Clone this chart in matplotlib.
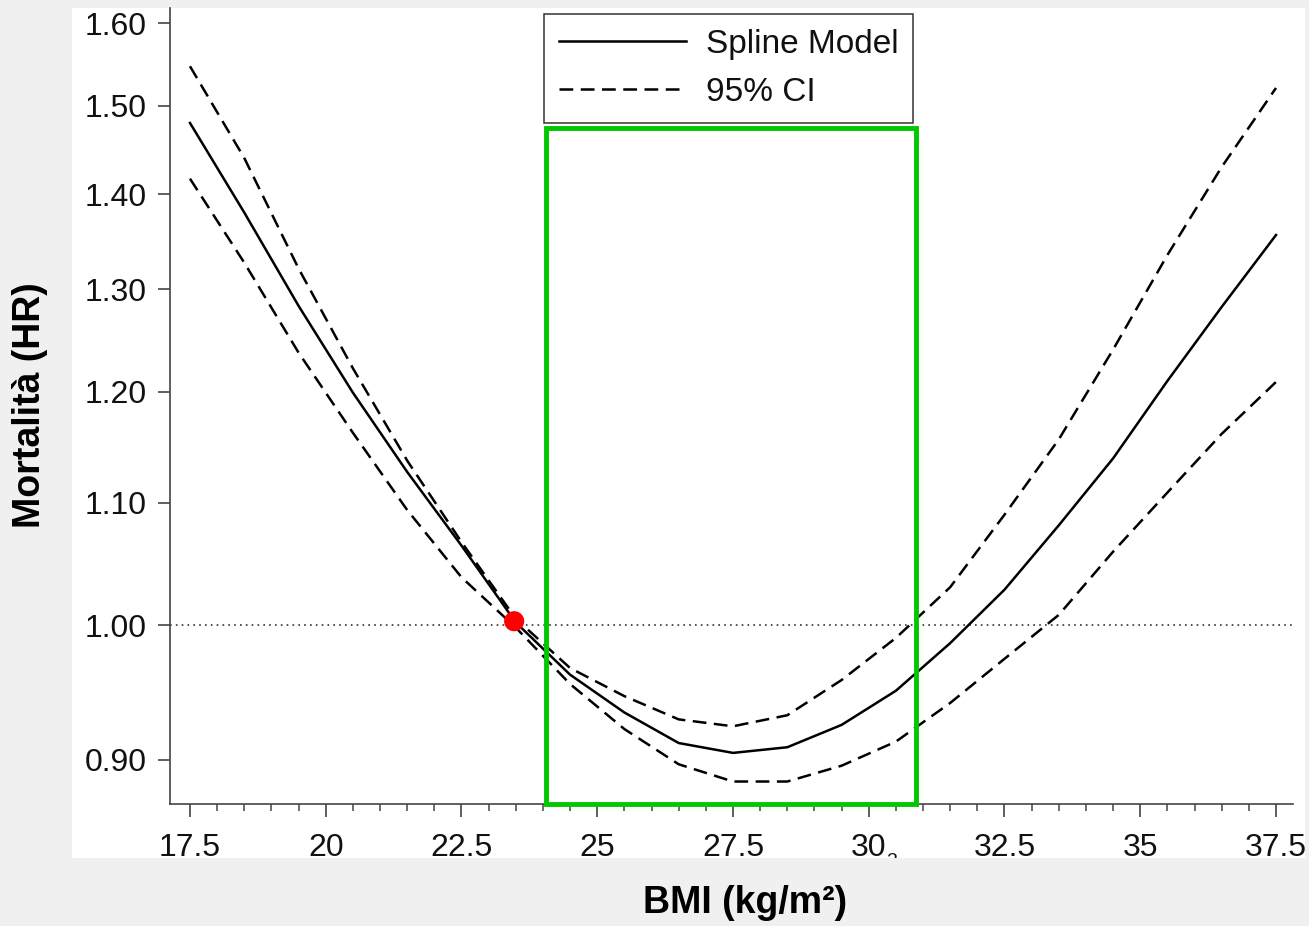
import numpy as np
import matplotlib
matplotlib.use("Agg")
import matplotlib.pyplot as plt
from matplotlib.patches import Rectangle
from matplotlib.ticker import FixedLocator, MultipleLocator, NullLocator, FixedFormatter

plt.rcParams['font.family'] = ['Liberation Sans', 'DejaVu Sans']

# BMI grid and hazard ratios
bmi = [17.5, 18.5, 19.5, 20.5, 21.5, 22.5, 23.5, 24.5, 25.5, 26.5, 27.5,
       28.5, 29.5, 30.5, 31.5, 32.5, 33.5, 34.5, 35.5, 36.5, 37.5]
hr_spline = [1.480, 1.380, 1.283, 1.199, 1.127, 1.064, 1.002, 0.962, 0.934, 0.912, 0.905,
             0.909, 0.925, 0.950, 0.986, 1.028, 1.081, 1.139, 1.210, 1.282, 1.356]
hr_upper = [1.547, 1.440, 1.321, 1.222, 1.137, 1.067, 1.005, 0.967, 0.946, 0.929, 0.924,
            0.932, 0.958, 0.990, 1.030, 1.090, 1.156, 1.240, 1.335, 1.430, 1.521]
hr_lower = [1.417, 1.327, 1.237, 1.162, 1.094, 1.038, 0.998, 0.955, 0.922, 0.897, 0.885,
            0.885, 0.896, 0.913, 0.941, 0.974, 1.008, 1.059, 1.109, 1.161, 1.209]

ref_point = (23.47, 1.003)          # red dot (reference BMI)
highlight_bmi = (24.06, 30.87)      # green box, BMI range
highlight_top = 1.474

xticks = [17.5, 20, 22.5, 25, 27.5, 30, 32.5, 35, 37.5]
xticklabels = ['17.5', '20', '22.5', '25', '27.5', '30', '32.5', '35', '37.5']
yticks = [0.90, 1.00, 1.10, 1.20, 1.30, 1.40, 1.50, 1.60]
yticklabels = ['0.90', '1.00', '1.10', '1.20', '1.30', '1.40', '1.50', '1.60']

W, H = 1309, 926
fig = plt.figure(figsize=(W / 100, H / 100), dpi=100, facecolor='#f0f0f0')

# white panel behind the plot
panel = Rectangle((72 / W, 1 - 858 / H), (1305 - 72) / W, (858 - 8) / H,
                  transform=fig.transFigure, facecolor='white', edgecolor='none', zorder=-5)
fig.add_artist(panel)

ax = fig.add_axes([170 / W, 1 - 804 / H, (1293 - 170) / W, (804 - 8) / H])
ax.set_zorder(2)
ax.set_facecolor('none')
ax.set_yscale('log')
ax.set_xlim(17.132, 37.813)
ax.set_ylim(0.8696, 1.619)

dash = (0, (5.5, 3))
ax.plot(bmi, hr_spline, color='black', lw=1.8, label='Spline Model', zorder=3)
ax.plot(bmi, hr_upper, color='black', lw=1.8, ls=dash, label='95% CI', zorder=3)
ax.plot(bmi, hr_lower, color='black', lw=1.8, ls=dash, zorder=3)
ax.axhline(1.0, color='#333333', lw=1.2, ls=(0, (1, 2.5)), zorder=2)

ax.add_patch(Rectangle((highlight_bmi[0], 0.8696), highlight_bmi[1] - highlight_bmi[0],
                       highlight_top - 0.8696, fill=False, edgecolor='#00c800',
                       lw=3.5, zorder=4, clip_on=False))
ax.scatter([ref_point[0]], [ref_point[1]], s=210, color='#ff0000', zorder=5,
           edgecolors='none')

# axes styling
for s in ['top', 'right']:
    ax.spines[s].set_visible(False)
for s in ['left', 'bottom']:
    ax.spines[s].set_color('#444444')
    ax.spines[s].set_linewidth(1.2)

ax.xaxis.set_major_locator(FixedLocator(xticks))
ax.xaxis.set_major_formatter(FixedFormatter(xticklabels))
ax.xaxis.set_minor_locator(MultipleLocator(0.5))
ax.yaxis.set_major_locator(FixedLocator(yticks))
ax.yaxis.set_major_formatter(FixedFormatter(yticklabels))
ax.yaxis.set_minor_locator(NullLocator())
ax.tick_params(axis='both', which='major', length=9, width=1.2, color='#444444',
               labelsize=23, pad=8, labelcolor='#111111')
ax.tick_params(axis='x', which='major', pad=12)
ax.tick_params(axis='x', which='minor', length=5, width=1.1, color='#444444')

leg = ax.legend(loc='upper left', bbox_to_anchor=(0.333, 0.9925), borderaxespad=0,
                fontsize=24, handlelength=3.8, handletextpad=0.6, borderpad=0.45,
                labelspacing=0.5, fancybox=False, framealpha=1)
leg.get_frame().set_edgecolor('#333333')
leg.get_frame().set_linewidth(1.1)
for t in leg.get_texts():
    t.set_color('#111111')

fig.text(30 / W, 1 - 405 / H, 'Mortalità (HR)', rotation=90, ha='center', va='center',
         fontsize=27, fontweight='bold')
fig.text(745 / W, 1 - 903 / H, 'BMI (kg/m²)', ha='center', va='center',
         fontsize=27, fontweight='bold')

# stray subscript next to the 30 tick label, cut by the panel edge
stray = fig.text(892 / W, 1 - 861 / H, '2', ha='center', va='center', fontsize=14,
                 color='#111111', zorder=3)
stray.set_clip_path(panel)

fig.savefig('out.png', dpi=100, facecolor=fig.get_facecolor())
